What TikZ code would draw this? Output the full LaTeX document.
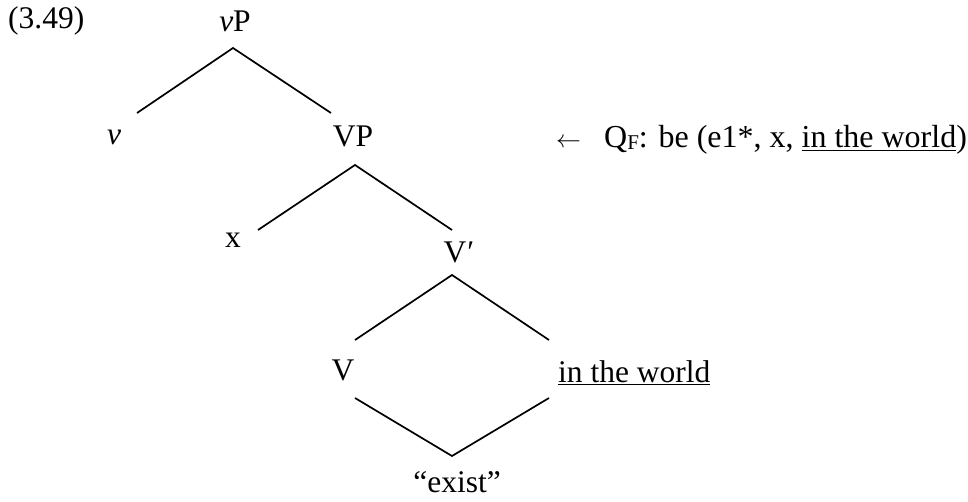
\documentclass[tikz,border=0pt]{standalone}
\usepackage{fontspec}
\setmainfont{Liberation Serif}
\begin{document}
\begin{tikzpicture}[x=1pt,y=-1pt,
  lbl/.style={inner sep=0pt,anchor=base,font=\fontsize{31.5}{36}\selectfont},
  lblw/.style={lbl,anchor=base west},
  branch/.style={line width=1.7pt}]
\useasboundingbox (0,0) rectangle (968,502);
% labels
\node[lblw] (num) at (8,29) {(3.49)};
\node[lbl] (vP) at (235,32) {\textit{v}P};
\node[lbl] (v) at (114,145) {\textit{v}};
\node[lbl] (VP) at (353,147) {VP};
\node[lblw] (arr) at (556,148) {{\fontsize{29}{30}\selectfont$\leftarrow$}};
\node[lblw,font=\fontsize{32}{36}\selectfont] (qf) at (604,148) {Q{\fontsize{21}{24}\selectfont\raisebox{-1.5pt}{F}}: be (e1*, x, \underline{in the world})};
\node[lbl] (x) at (233,248) {x};
\node[lbl] (Vbar) at (459,263) {V\kern1pt′};
\node[lbl] (V) at (343,380) {V};
\node[lblw] (itw) at (558,382) {\underline{in the world}};
\node[lbl] (exist) at (457,492) {“exist”};
% branch end points
\coordinate (vP-b) at (233,48);
\coordinate (v-t) at (137,113);
\coordinate (VP-t) at (331,113);
\coordinate (VP-b) at (355,165);
\coordinate (x-t) at (258,230);
\coordinate (Vbar-t) at (452,230);
\coordinate (Vbar-b) at (452,275);
\coordinate (V-t) at (355,340);
\coordinate (itw-t) at (549,340);
\coordinate (V-b) at (355,398);
\coordinate (itw-b) at (549,398);
\coordinate (exist-t) at (452,456);
% branches
\draw[branch] (v-t) -- (vP-b) -- (VP-t);
\draw[branch] (x-t) -- (VP-b) -- (Vbar-t);
\draw[branch] (V-t) -- (Vbar-b) -- (itw-t);
\draw[branch] (V-b) -- (exist-t) -- (itw-b);
\end{tikzpicture}
\end{document}
